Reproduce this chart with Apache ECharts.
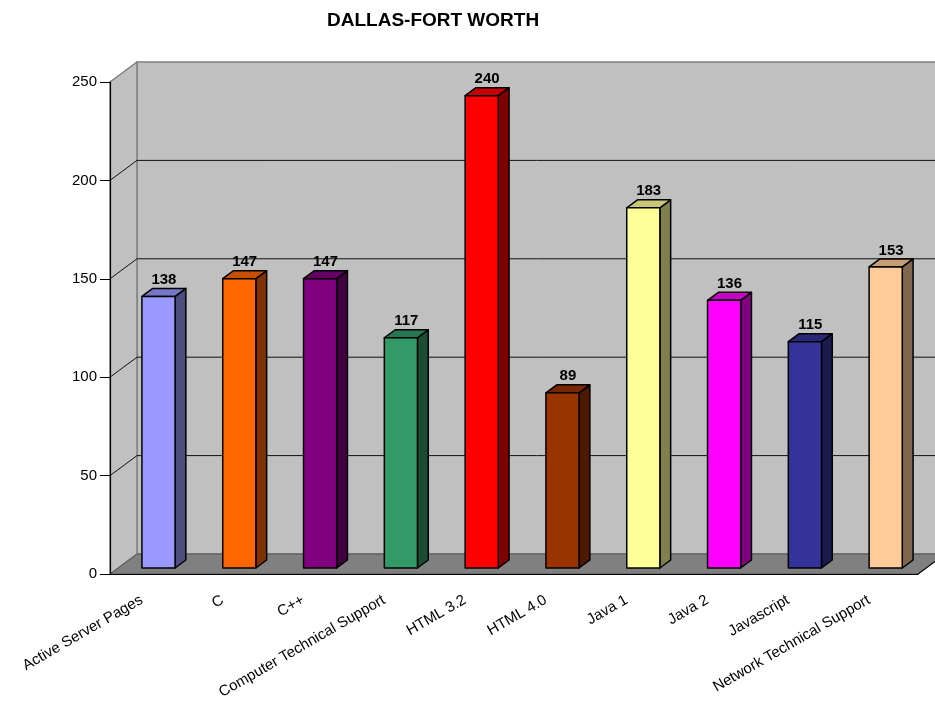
<!DOCTYPE html>
<html>
<head>
<meta charset="utf-8">
<script src="https://cdn.jsdelivr.net/npm/echarts@6/dist/echarts.min.js"></script>
<style>
  html, body { margin: 0; padding: 0; background: #fff; }
  #chart { width: 935px; height: 711px; }
</style>
</head>
<body>
<div id="chart"></div>
<script>
var categories = ['Active Server Pages', 'C', 'C++', 'Computer Technical Support', 'HTML 3.2',
  'HTML 4.0', 'Java 1', 'Java 2', 'Javascript', 'Network Technical Support']
var counts = [138, 147, 147, 117, 240, 89, 183, 136, 115, 153]
var barColors = ['#9999ff', '#ff6600', '#800080', '#339966', '#ff0000',
  '#993300', '#ffff99', '#ff00ff', '#333399', '#ffcc99']
var yTicks = [0, 50, 100, 150, 200, 250]

// depth of the 3d box in pixels
var DX = 27, DY = -20
var FONT = '"Liberation Sans", Arial, Helvetica, sans-serif'

function shade(hex, k) {
  var n = parseInt(hex.slice(1), 16)
  var r = Math.round(((n >> 16) & 255) * k)
  var g = Math.round(((n >> 8) & 255) * k)
  var b = Math.round((n & 255) * k)
  return 'rgb(' + r + ',' + g + ',' + b + ')'
}

function renderWalls(params, api) {
  var cs = params.coordSys
  var x0 = cs.x, x1 = cs.x + cs.width
  var y0 = api.coord([0, 0])[1]
  var yTop = api.coord([0, yTicks[yTicks.length - 1]])[1]
  var kids = []
  // back wall
  kids.push({ type: 'polygon', shape: { points: [[x0 + DX, yTop + DY], [x1 + DX + 40, yTop + DY], [x1 + DX + 40, y0 + DY], [x0 + DX, y0 + DY]] },
    style: { fill: '#c0c0c0', stroke: '#808080', lineWidth: 1.5 } })
  // left wall
  kids.push({ type: 'polygon', shape: { points: [[x0, yTop], [x0 + DX, yTop + DY], [x0 + DX, y0 + DY], [x0, y0]] },
    style: { fill: '#c0c0c0', stroke: '#808080', lineWidth: 1.5 } })
  // gridlines
  yTicks.slice(1, -1).forEach(function (t) {
    var y = api.coord([0, t])[1]
    kids.push({ type: 'polyline', shape: { points: [[x0, y], [x0 + DX, y + DY], [x1 + DX + 40, y + DY]] },
      style: { fill: null, stroke: '#111', lineWidth: 1 } })
  })
  // floor
  kids.push({ type: 'polygon', shape: { points: [[x0, y0], [x1, y0], [x1 + DX, y0 + DY], [x0 + DX, y0 + DY]] },
    style: { fill: '#808080', stroke: '#555', lineWidth: 1 } })
  kids.push({ type: 'line', shape: { x1: x1, y1: y0, x2: x1 + DX, y2: y0 + DY },
    style: { stroke: '#111', lineWidth: 1.2 } })
  return { type: 'group', children: kids }
}

function renderBar(params, api) {
  var i = api.value(0), v = api.value(1)
  var top = api.coord([i, v])
  var base = api.coord([i, 0])
  var band = api.size([1, 0])[0]
  var w = band * 0.41
  var fx = DX * 0.3, fy = DY * 0.3
  var bx = DX * 0.4, by = DY * 0.4
  var xa = top[0] - w / 2 + fx, xb = xa + w
  var yT = top[1] + fy, yB = base[1] + fy
  var col = barColors[i]
  var edge = { stroke: '#000', lineWidth: 1.5, lineJoin: 'round' }
  return {
    type: 'group',
    children: [
      { type: 'polygon', shape: { points: [[xb, yT], [xb + bx, yT + by], [xb + bx, yB + by], [xb, yB]] },
        style: Object.assign({ fill: shade(col, 0.5) }, edge) },
      { type: 'polygon', shape: { points: [[xa, yT], [xb, yT], [xb + bx, yT + by], [xa + bx, yT + by]] },
        style: Object.assign({ fill: shade(col, 0.78) }, edge) },
      { type: 'rect', shape: { x: xa, y: yT, width: w, height: yB - yT },
        style: Object.assign({ fill: col }, edge) },
      { type: 'text', style: { text: String(v), x: xa + w / 2 + bx / 2, y: yT + by - 1,
        align: 'center', verticalAlign: 'bottom', font: 'bold 15px ' + FONT, fill: '#000' } }
    ]
  }
}

var chart = echarts.init(document.getElementById('chart'))
chart.setOption({
  animation: false,
  title: {
    text: 'DALLAS-FORT WORTH',
    left: 322,
    top: 6,
    textStyle: { fontFamily: FONT, fontSize: 19, fontWeight: 'bold', color: '#000' }
  },
  grid: { left: 110, right: 17, top: 82, bottom: 137 },
  xAxis: {
    type: 'category',
    data: categories,
    z: 5,
    axisLine: { lineStyle: { color: '#000', width: 1.2 } },
    axisTick: { length: 10, lineStyle: { color: '#000' } },
    axisLabel: { rotate: 30, margin: 20, padding: [0, 10, 0, 0], interval: 0, fontFamily: FONT, fontSize: 15, color: '#000' }
  },
  yAxis: {
    type: 'value',
    min: 0,
    max: 250,
    interval: 50,
    z: 5,
    axisLine: { show: true, lineStyle: { color: '#000', width: 1.2 } },
    axisTick: { show: true, length: 10, lineStyle: { color: '#000' } },
    axisLabel: { margin: 13, fontFamily: FONT, fontSize: 15, color: '#000' },
    splitLine: { show: false }
  },
  series: [
    {
      type: 'custom',
      z: 1,
      clip: false,
      silent: true,
      renderItem: renderWalls,
      data: [[0, 0]]
    },
    {
      type: 'custom',
      z: 3,
      clip: false,
      renderItem: renderBar,
      data: counts.map(function (v, i) { return [i, v] })
    }
  ]
})
</script>
</body>
</html>
